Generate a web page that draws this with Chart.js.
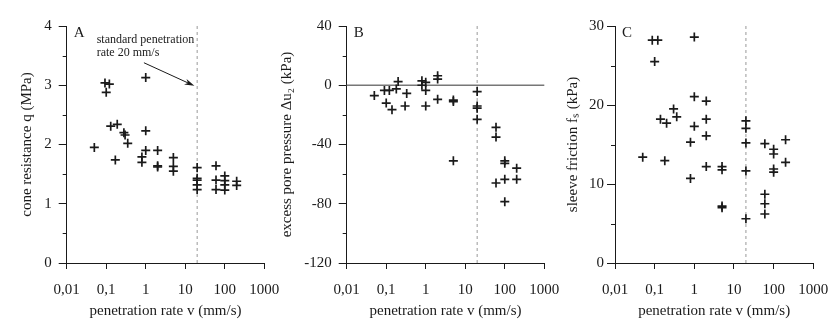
<!DOCTYPE html>
<html>
<head>
<meta charset="utf-8">
<script src="https://cdn.jsdelivr.net/npm/chart.js@4.4.0/dist/chart.umd.min.js"></script>
<style>
    body { margin: 0; background: #fff; }
    .panel { position: absolute; top: 0; width: 280px; height: 327px; }
</style>
</head>
<body>
<div class="panel" style="left:0px"><canvas id="chartA" width="280" height="327"></canvas></div>
<div class="panel" style="left:280px"><canvas id="chartB" width="280" height="327"></canvas></div>
<div class="panel" style="left:560px"><canvas id="chartC" width="280" height="327"></canvas></div>
<script>
// panel A: cone resistance vs penetration rate
const rateA = [0.093, 0.12, 0.1, 1, 0.13, 0.19, 0.28, 0.3, 0.35, 0.05, 0.17, 1, 1, 0.8, 0.8,
    2, 2, 2, 5, 5, 5, 20, 20, 20, 20, 20, 60, 60, 60, 100, 100, 100, 100, 200, 200];
const coneQ = [3.04, 3.02, 2.88, 3.13, 2.31, 2.34, 2.20, 2.16, 2.02, 1.95, 1.74, 2.23, 1.90, 1.79, 1.70,
    1.90, 1.64, 1.62, 1.78, 1.63, 1.55, 1.61, 1.43, 1.40, 1.32, 1.24, 1.64, 1.40, 1.24, 1.47, 1.39, 1.32, 1.23, 1.38, 1.31];

// panel B: excess pore pressure vs penetration rate
const rateB = [0.05, 0.09, 0.12, 0.18, 0.2, 0.33, 0.1, 0.14, 0.3, 0.8, 1, 0.8, 1, 1,
    2, 2, 2, 5, 5, 5, 20, 20, 20, 20, 60, 60, 60, 100, 100, 100, 100, 200, 200];
const poreDu = [-7, -3.5, -3.5, -2.5, 2.5, -5.5, -12, -16.5, -14, 3, 2, 0, -3.5, -14,
    6.4, 4.2, -9.5, -10, -11, -51, -4.3, -14, -15.5, -23, -28.4, -35, -66, -51, -52.7, -63.5, -78.6, -56, -63.5];

// panel C: sleeve friction vs penetration rate
const rateC = [0.087, 0.12, 0.1, 1, 0.05, 0.18, 0.14, 0.2, 0.3, 0.36, 1, 1, 0.8, 0.8,
    2, 2, 2, 2, 5, 5, 5, 5, 20, 20, 20, 20, 20, 60, 60, 60, 60, 100, 100, 100, 100, 200, 200];
const sleeveFs = [28.2, 28.2, 25.5, 28.6, 13.4, 12.95, 18.2, 17.7, 19.5, 18.5, 21.05, 17.3, 15.3, 10.7,
    20.5, 18.2, 16.1, 12.2, 12.2, 11.8, 7.2, 7.0, 18.0, 17.05, 15.2, 11.65, 5.6, 15.1, 8.7, 7.5, 6.2, 14.4, 13.8, 11.9, 11.5, 15.6, 12.75];

const xTicks = [0.01, 0.1, 1, 10, 100, 1000];
const xTickLabels = ["0,01", "0,1", "1", "10", "100", "1000"];
const STANDARD_RATE = 20;

const FONT = "'Liberation Serif', 'Times New Roman', serif";
const INK = "#1a1a1a";

const toPoints = (xs, ys) => xs.map((x, i) => ({ x: x, y: ys[i] }));

// dashed 20 mm/s line, zero line, panel letter, minor ticks, note
const panelExtras = {
    id: "panelExtras",
    beforeDatasetsDraw(chart, args, opts) {
        const { ctx, chartArea } = chart;
        const xs = chart.scales.x, ys = chart.scales.y;
        ctx.save();
        if (opts.zeroLine) {
            const y0 = ys.getPixelForValue(0);
            ctx.strokeStyle = "#777";
            ctx.lineWidth = 1.5;
            ctx.beginPath();
            ctx.moveTo(chartArea.left, y0);
            ctx.lineTo(chartArea.right, y0);
            ctx.stroke();
        }
        const xr = xs.getPixelForValue(STANDARD_RATE);
        ctx.strokeStyle = "#999";
        ctx.lineWidth = 1;
        ctx.setLineDash([3, 3]);
        ctx.beginPath();
        ctx.moveTo(xr, chartArea.top);
        ctx.lineTo(xr, chartArea.bottom);
        ctx.stroke();
        ctx.restore();
    },
    afterDraw(chart, args, opts) {
        const { ctx, chartArea } = chart;
        const xs = chart.scales.x, ys = chart.scales.y;
        ctx.save();
        // minor y ticks
        ctx.strokeStyle = INK;
        ctx.lineWidth = 1;
        for (let v = ys.min + opts.minorStep; v < ys.max; v += 2 * opts.minorStep) {
            const py = Math.round(ys.getPixelForValue(v)) + 0.5;
            ctx.beginPath();
            ctx.moveTo(chartArea.left - 4, py);
            ctx.lineTo(chartArea.left, py);
            ctx.stroke();
        }
        ctx.fillStyle = INK;
        ctx.font = "15px " + FONT;
        ctx.textBaseline = "alphabetic";
        ctx.fillText(opts.letter, chartArea.left + 7, chartArea.top + 11);
        if (opts.note) {
            ctx.font = "12px " + FONT;
            ctx.fillText("standard penetration", chartArea.left + 30, chartArea.top + 17);
            ctx.fillText("rate 20 mm/s", chartArea.left + 30, chartArea.top + 30);
            const x1 = xs.getPixelForValue(0.9), y1 = ys.getPixelForValue(3.38);
            const x2 = xs.getPixelForValue(17), y2 = ys.getPixelForValue(2.99);
            const ang = Math.atan2(y2 - y1, x2 - x1);
            ctx.strokeStyle = INK;
            ctx.lineWidth = 1;
            ctx.beginPath();
            ctx.moveTo(x1, y1);
            ctx.lineTo(x2 - 6 * Math.cos(ang), y2 - 6 * Math.sin(ang));
            ctx.stroke();
            ctx.beginPath();
            ctx.moveTo(x2, y2);
            ctx.lineTo(x2 - 10 * Math.cos(ang) + 3 * Math.sin(ang), y2 - 10 * Math.sin(ang) - 3 * Math.cos(ang));
            ctx.lineTo(x2 - 7 * Math.cos(ang), y2 - 7 * Math.sin(ang));
            ctx.lineTo(x2 - 10 * Math.cos(ang) - 3 * Math.sin(ang), y2 - 10 * Math.sin(ang) + 3 * Math.cos(ang));
            ctx.closePath();
            ctx.fill();
        }
        ctx.restore();
    }
};

const buildPanel = (canvasId, xs, ys, yCfg, extras, frame) => {
    const canvas = document.getElementById(canvasId);
    return new Chart(canvas.getContext("2d"), {
        type: "scatter",
        data: {
            datasets: [{
                data: toPoints(xs, ys),
                pointStyle: "cross",
                pointRadius: 4.5,
                borderColor: INK,
                backgroundColor: INK,
                borderWidth: 1.7
            }]
        },
        options: {
            responsive: false,
            animation: false,
            layout: {
                autoPadding: false,
                padding: { top: 26, right: frame.right, left: 0, bottom: 0 }
            },
            plugins: {
                legend: { display: false },
                tooltip: { enabled: false },
                panelExtras: extras
            },
            scales: {
                x: {
                    type: "logarithmic",
                    min: 0.01,
                    max: 1000,
                    afterBuildTicks: (scale) => { scale.ticks = xTicks.map(v => ({ value: v })); },
                    afterFit: (scale) => {
                        scale.height = 64;
                        scale.paddingLeft = 0;
                        scale.paddingRight = 0;
                    },
                    ticks: {
                        autoSkip: false,
                        maxRotation: 0,
                        padding: 12,
                        color: INK,
                        font: { family: FONT, size: 15 },
                        callback: (value) => xTickLabels[xTicks.indexOf(value)] ?? ""
                    },
                    grid: { drawOnChartArea: false, tickLength: 6, color: INK },
                    border: { color: INK, width: 1 },
                    title: {
                        display: true,
                        text: "penetration rate v (mm/s)",
                        color: INK,
                        font: { family: FONT, size: 15, lineHeight: 1 },
                        padding: { bottom: 8, top: 0 }
                    }
                },
                y: {
                    min: yCfg.min,
                    max: yCfg.max,
                    afterFit: (scale) => {
                        scale.width = frame.left;
                        scale.paddingTop = 0;
                        scale.paddingBottom = 0;
                    },
                    ticks: {
                        stepSize: yCfg.step,
                        padding: yCfg.tickPad,
                        color: INK,
                        font: { family: FONT, size: 15 }
                    },
                    grid: { drawOnChartArea: false, tickLength: 8, color: INK },
                    border: { color: INK, width: 1 },
                    title: {
                        display: true,
                        text: yCfg.title,
                        color: INK,
                        font: { family: FONT, size: 15, lineHeight: 1 },
                        padding: { top: yCfg.titlePad, bottom: 0 }
                    }
                }
            }
        },
        plugins: [panelExtras]
    });
};

buildPanel("chartA", rateA, coneQ,
    { min: 0, max: 4, step: 1, tickPad: 7, title: "cone resistance q (MPa)", titlePad: 20 },
    { letter: "A", minorStep: 0.5, zeroLine: false, note: true },
    { left: 66.7, right: 15.7 });

buildPanel("chartB", rateB, poreDu,
    { min: -120, max: 40, step: 40, tickPad: 7, title: "excess pore pressure Δu₂ (kPa)", titlePad: 0 },
    { letter: "B", minorStep: 20, zeroLine: true, note: false },
    { left: 66.7, right: 15.7 });

buildPanel("chartC", rateC, sleeveFs,
    { min: 0, max: 30, step: 10, tickPad: 3, title: "sleeve friction fₛ (kPa)", titlePad: 5.5 },
    { letter: "C", minorStep: 5, zeroLine: false, note: false },
    { left: 55, right: 26.7 });
</script>
</body>
</html>
